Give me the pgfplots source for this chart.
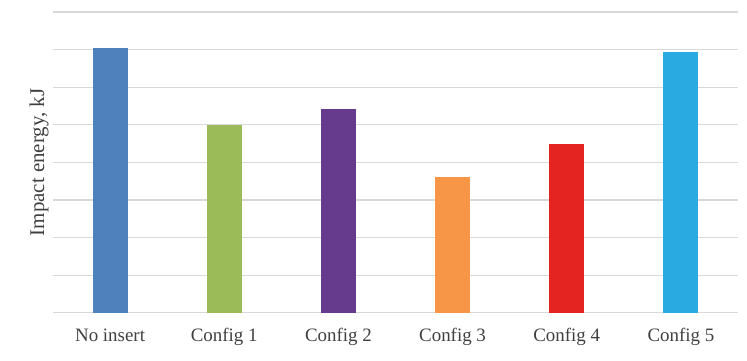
\documentclass[border=0pt]{standalone}
\usepackage{fontspec}
\setmainfont{Liberation Serif}
\usepackage{pgfplots}
\pgfplotsset{compat=1.18}
\definecolor{cblue}{RGB}{79,129,189}
\definecolor{cgreen}{RGB}{155,187,89}
\definecolor{cpurple}{RGB}{102,58,140}
\definecolor{corange}{RGB}{247,150,70}
\definecolor{cred}{RGB}{227,36,33}
\definecolor{ccyan}{RGB}{41,170,225}
\definecolor{gridc}{RGB}{217,217,217}
\definecolor{txt}{RGB}{64,64,64}
\begin{document}
\begin{tikzpicture}
\path[use as bounding box] (-53bp,-48.3bp) rectangle (694bp,312.7bp);
\begin{axis}[
  at={(0,0)}, anchor=south west,
  scale only axis,
  width=685bp, height=300.7bp,
  xmin=-0.5, xmax=5.5, ymin=0, ymax=8,
  xtick={0,1,2,3,4,5},
  xticklabels={No insert,Config 1,Config 2,Config 3,Config 4,Config 5},
  ytick={0,1,2,3,4,5,6,7,8},
  yticklabels={},
  major tick length=0pt,
  axis line style={draw=none},
  ymajorgrids,
  grid style={gridc, line width=1.2pt},
  xticklabel style={anchor=base, yshift=-29bp, text=txt, font=\fontsize{19}{22}\selectfont},
  ylabel={Impact energy, kJ},
  ylabel style={at={(axis description cs:-0.0204,0.5)}, anchor=center, text=txt, font=\fontsize{21}{24}\selectfont},
  ybar, bar width=35bp, bar shift=0pt,
  clip=false,
]
\addplot[fill=cblue, draw=none] coordinates {(0,7.04)};
\addplot[fill=cgreen, draw=none] coordinates {(1,4.99)};
\addplot[fill=cpurple, draw=none] coordinates {(2,5.41)};
\addplot[fill=corange, draw=none] coordinates {(3,3.61)};
\addplot[fill=cred, draw=none] coordinates {(4,4.50)};
\addplot[fill=ccyan, draw=none] coordinates {(5,6.93)};
\end{axis}
\end{tikzpicture}
\end{document}
